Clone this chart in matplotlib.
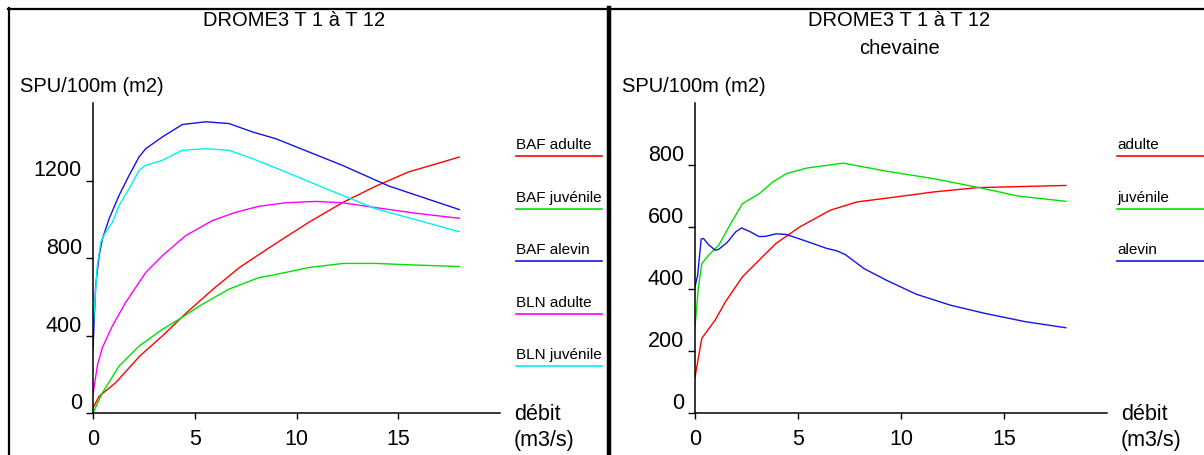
import matplotlib
matplotlib.use("Agg")
import matplotlib.pyplot as plt
from matplotlib.lines import Line2D

plt.rcParams['font.family'] = ['Liberation Sans', 'DejaVu Sans']

W, H = 1204, 456

# ---- data: left panel (BAF / BLN) ----
baf_adulte_x = [0, 0.3, 1.1, 2.3, 3.4, 4.6, 5.9, 7.2, 8.5, 9.5, 10.6, 12.3, 13.9, 15.5, 18.0]
baf_adulte_y = [26, 86, 155, 294, 397, 518, 639, 751, 842, 910, 984, 1088, 1171, 1244, 1321]

baf_juv_x = [0, 0.46, 1.28, 2.26, 3.41, 4.23, 5.37, 6.68, 8.16, 9.0, 10.6, 12.3, 13.9, 15.5, 18.0]
baf_juv_y = [0, 104, 242, 345, 432, 484, 561, 639, 699, 715, 751, 772, 772, 765, 756]

baf_alevin_x = [0, 0.13, 0.3, 0.46, 0.79, 1.28, 1.77, 2.26, 2.59, 3.41, 4.39, 5.54, 6.68, 7.83, 9.0, 12.26, 14.55, 18.0]
baf_alevin_y = [328, 656, 812, 898, 1002, 1123, 1226, 1321, 1364, 1425, 1489, 1503, 1494, 1451, 1415, 1278, 1171, 1050]

bln_adulte_x = [0, 0.21, 0.46, 0.95, 1.6, 2.59, 3.41, 4.55, 5.86, 7.01, 8.16, 9.47, 10.94, 12.26, 13.9, 15.86, 18.0]
bln_adulte_y = [95, 242, 337, 449, 570, 725, 812, 915, 993, 1036, 1067, 1085, 1092, 1085, 1060, 1031, 1005]

bln_juv_x = [0, 0.21, 0.38, 0.62, 0.95, 1.28, 1.77, 2.26, 2.59, 3.41, 4.39, 5.54, 6.68, 7.83, 9.0, 12.26, 13.9, 18.0]
bln_juv_y = [432, 760, 881, 933, 984, 1071, 1157, 1252, 1278, 1304, 1356, 1364, 1356, 1313, 1264, 1123, 1054, 936]

# ---- data: right panel (chevaine) ----
chev_adulte_x = [0, 0.33, 0.98, 1.48, 2.3, 3.11, 3.93, 5.08, 6.56, 7.87, 9.3, 11.58, 13.7, 18.0]
chev_adulte_y = [115, 241, 300, 359, 439, 493, 547, 600, 654, 681, 693, 713, 727, 734]

chev_juv_x = [0, 0.16, 0.33, 0.66, 1.15, 1.64, 2.3, 3.11, 3.77, 4.43, 5.41, 7.21, 9.3, 11.58, 13.87, 15.67, 18.0]
chev_juv_y = [279, 402, 482, 509, 541, 600, 675, 707, 745, 772, 790, 806, 780, 756, 726, 700, 683]

chev_alevin_x = [0, 0.13, 0.3, 0.41, 0.66, 0.98, 1.15, 1.56, 1.97, 2.26, 2.7, 3.11, 3.44, 3.93, 4.43,
                 5.41, 6.39, 6.89, 7.3, 8.2, 9.3, 10.75, 12.39, 14.03, 16.0, 18.0]
chev_alevin_y = [407, 445, 561, 563, 543, 525, 528, 550, 584, 597, 584, 569, 570, 578, 576,
                 554, 531, 523, 511, 466, 428, 383, 348, 322, 295, 275]

left_series = [
    ("BAF adulte", baf_adulte_x, baf_adulte_y, "#ff0000"),
    ("BAF juvénile", baf_juv_x, baf_juv_y, "#00e000"),
    ("BAF alevin", baf_alevin_x, baf_alevin_y, "#1414e6"),
    ("BLN adulte", bln_adulte_x, bln_adulte_y, "#ff00ff"),
    ("BLN juvénile", bln_juv_x, bln_juv_y, "#00f0f0"),
]
right_series = [
    ("adulte", chev_adulte_x, chev_adulte_y, "#ff0000"),
    ("juvénile", chev_juv_x, chev_juv_y, "#00e000"),
    ("alevin", chev_alevin_x, chev_alevin_y, "#1414e6"),
]

left_yticks = [0, 400, 800, 1200]
right_yticks = [0, 200, 400, 600, 800]
xticks = [0, 5, 10, 15]


def fx(px):
    return px / W


def fy(py):
    return 1 - py / H


fig = plt.figure(figsize=(W / 100, H / 100), dpi=100)


def make_panel(x0, x1, ymax, yticks, series, leg_x0, leg_x1, titles):
    ax = fig.add_axes([fx(x0), fy(414), fx(x1) - fx(x0), fy(104) - fy(414)])
    for name, xs, ys, col in series:
        ax.plot(xs, ys, color=col, lw=1.0)
    ax.set_xlim(0, 20)
    ax.set_ylim(0, ymax)
    ax.set_xticks(xticks)
    ax.set_yticks(yticks)
    for s in ['top', 'right']:
        ax.spines[s].set_visible(False)
    for s in ['left', 'bottom']:
        ax.spines[s].set_linewidth(1.1)
    ax.tick_params(axis='x', direction='out', length=4, width=1.0, labelsize=15.5, pad=7)
    ax.tick_params(axis='y', direction='out', length=5, width=1.0, labelsize=15.5, pad=3)
    for lbl in ax.get_yticklabels():
        lbl.set_verticalalignment('bottom')

    # axis labels
    fig.text(fx(x0 - 73), fy(87), "SPU/100m (m2)", fontsize=14.5, ha='left', va='center')
    fig.text(fx(x1 + 14), fy(415), "débit", fontsize=15.5, ha='left', va='center')
    fig.text(fx(x1 + 14), fy(441), "(m3/s)", fontsize=15.5, ha='left', va='center')

    # titles
    cx = (x0 + x1) / 2 - 2
    for i, t in enumerate(titles):
        fig.text(fx(cx), fy(21 + 28 * i), t, fontsize=14.5, ha='center', va='center')

    # legend: label above a short coloured line
    for i, (name, xs, ys, col) in enumerate(series):
        ly = 157 + 52.6 * i
        fig.add_artist(Line2D([fx(leg_x0), fx(leg_x1)], [fy(ly), fy(ly)], color=col, lw=1.2))
        fig.text(fx(leg_x0), fy(ly - 5), name, fontsize=11, ha='left', va='bottom')
    return ax


make_panel(93, 500, 1600, left_yticks, left_series, 516, 602, ["DROME3 T 1 à T 12"])
make_panel(695, 1107, 1000, right_yticks, right_series, 1117, 1204,
           ["DROME3 T 1 à T 12", "chevaine"])

# frame lines
fig.add_artist(Line2D([fx(8), fx(1204)], [fy(9.5), fy(9.5)], color='black', lw=1.6))
fig.add_artist(Line2D([fx(8.5), fx(8.5)], [fy(9), fy(456)], color='black', lw=1.6))
fig.add_artist(Line2D([fx(609), fx(609)], [fy(9), fy(456)], color='black', lw=3.2))

fig.savefig("out.png", dpi=100)
